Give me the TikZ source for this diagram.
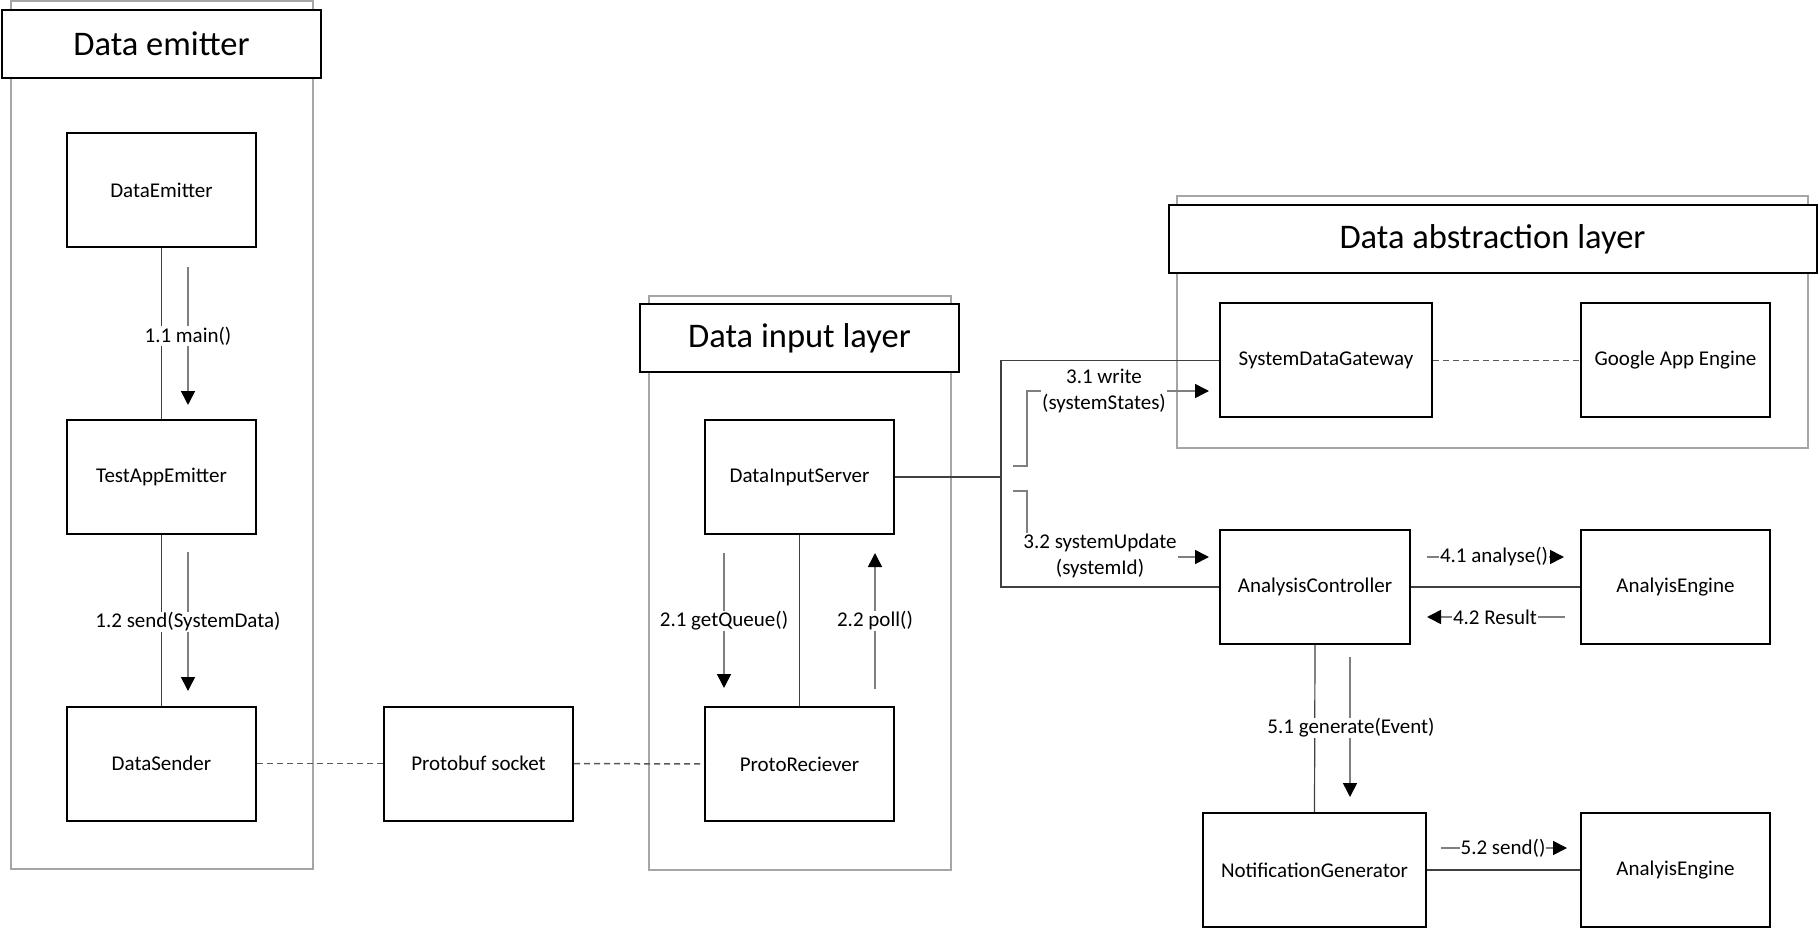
\documentclass[tikz,border=0pt]{standalone}
\usepackage{fontspec}
\setmainfont{Carlito}
\usetikzlibrary{arrows.meta}
\definecolor{cont}{HTML}{A6A6A6}
\definecolor{conn}{HTML}{404040}
\definecolor{shaft}{HTML}{7F7F7F}
\definecolor{dashc}{HTML}{595959}
\begin{document}
\begin{tikzpicture}[x=1pt,y=-1pt,
  box/.style={draw=black,line width=2pt,fill=white,minimum width=189pt,minimum height=114pt,inner sep=0pt,font=\fontsize{21}{25}\selectfont},
  titlebox/.style={draw=black,line width=2pt,fill=white,minimum height=68pt,inner sep=0pt,font=\fontsize{34.5}{40}\selectfont},
  container/.style={draw=cont,line width=2pt},
  conline/.style={draw=conn,line width=1.2pt},
  dashline/.style={draw=dashc,line width=1.5pt,dash pattern=on 6pt off 4pt},
  msg/.style={draw=shaft,line width=1.6pt,-{Triangle[length=14pt,width=14pt,color=black]}},
  lbl/.style={fill=white,inner sep=1pt,font=\fontsize{21}{26}\selectfont,align=center}]
\useasboundingbox (0,0) rectangle (1818,928);
% containers
\draw[container] (10.5,1.5) rectangle (312.5,869);
\draw[container] (648.5,295.5) rectangle (951,869.5);
\draw[container] (1177,196) rectangle (1808,447.5);
% titles
\node[titlebox,minimum width=319pt] (t1) at (161.5,44) {Data emitter};
\node[titlebox,minimum width=319pt] (t2) at (799.5,338) {Data input layer};
\node[titlebox,minimum width=648pt] (t3) at (1492.5,239) {Data abstraction layer};
% coordinates for connectors
\coordinate (jn) at (1001,477);
% boxes
\node[box] (de) at (161.5,190) {DataEmitter};
\node[box] (tae) at (161.5,477) {TestAppEmitter};
\node[box] (ds) at (161.5,763.5) {DataSender};
\node[box] (pb) at (478.5,763.5) {Protobuf socket};
\node[box] (dis) at (799.5,477) {DataInputServer};
\node[box] (pr) at (799.5,764) {ProtoReciever};
\node[box,minimum width=212pt] (sdg) at (1326,360.25) {SystemDataGateway};
\node[box] (gae) at (1675.5,360.25) {Google App Engine};
\node[box,minimum width=190pt] (ac) at (1315,587) {AnalysisController};
\node[box] (ae1) at (1675.5,587) {AnalyisEngine};
\node[box,minimum width=223pt] (ng) at (1314.5,870) {NotificationGenerator};
\node[box] (ae2) at (1675.5,870) {AnalyisEngine};
% connectors (behind boxes visually: drawn on background layer via order trick)
\begin{scope}[on background layer/.try]
\end{scope}
\draw[conline] (de.south) -- (tae.north);
\draw[conline] (tae.south) -- (ds.north);
\draw[dashline] (ds.east) -- (pb.west);
\draw[dashline] (pb.east) -- (pr.west);
\draw[conline] (dis.south) -- (pr.north);
\draw[conline] (dis.east) -- (jn);
\draw[conline] (jn) |- (sdg.west);
\draw[conline] (jn) |- (ac.west);
\draw[dashline] (sdg.east) -- (gae.west);
\draw[conline] (ac.east) -- (ae1.west);
\draw[conline] (ac.south) -- (ng.north);
\draw[conline] (ng.east) -- (ae2.west);
% message arrows
\coordinate (m11a) at (188,267); \coordinate (m11b) at (188,405);
\coordinate (m12a) at (188,552); \coordinate (m12b) at (188,691);
\coordinate (m21a) at (724,553); \coordinate (m21b) at (724,688);
\coordinate (m22a) at (875,689); \coordinate (m22b) at (875,553);
\coordinate (m31a) at (1013,466); \coordinate (m31b) at (1209,391);
\coordinate (m32a) at (1013,491); \coordinate (m32b) at (1209,557);
\coordinate (m41a) at (1427,557); \coordinate (m41b) at (1564,557);
\coordinate (m42a) at (1565,617); \coordinate (m42b) at (1427,617);
\coordinate (m51a) at (1350,657); \coordinate (m51b) at (1350,797);
\coordinate (m52a) at (1441,848); \coordinate (m52b) at (1567,848);
\draw[msg] (m11a) -- (m11b);
\draw[msg] (m12a) -- (m12b);
\draw[msg] (m21a) -- (m21b);
\draw[msg] (m22a) -- (m22b);
\draw[msg] (m31a) -- ++(14,0) |- (m31b);
\draw[msg] (m32a) -- ++(14,0) |- (m32b);
\draw[msg] (m41a) -- (m41b);
\draw[msg] (m42a) -- (m42b);
\draw[msg] (m51a) -- (m51b);
\draw[msg] (m52a) -- (m52b);
% labels
\node[lbl] (l11) at (188,336) {1.1 main()};
\node[lbl] (l12) at (188,622) {1.2 send(SystemData)};
\node[lbl] (l21) at (724,621) {2.1 getQueue()};
\node[lbl] (l22) at (875,621) {2.2 poll()};
\node[lbl] (l31) at (1104,390.5) {3.1 write\\(systemStates)};
\node[lbl] (l32) at (1100,556) {3.2 systemUpdate\\(systemId)};
\node[lbl] (l41) at (1494,557) {4.1 analyse()};
\node[lbl] (l42) at (1495,617) {4.2 Result};
\node[lbl] (l51) at (1351,728) {5.1 generate(Event)};
\node[lbl] (l52) at (1503,848) {5.2 send()};
\end{tikzpicture}
\end{document}
